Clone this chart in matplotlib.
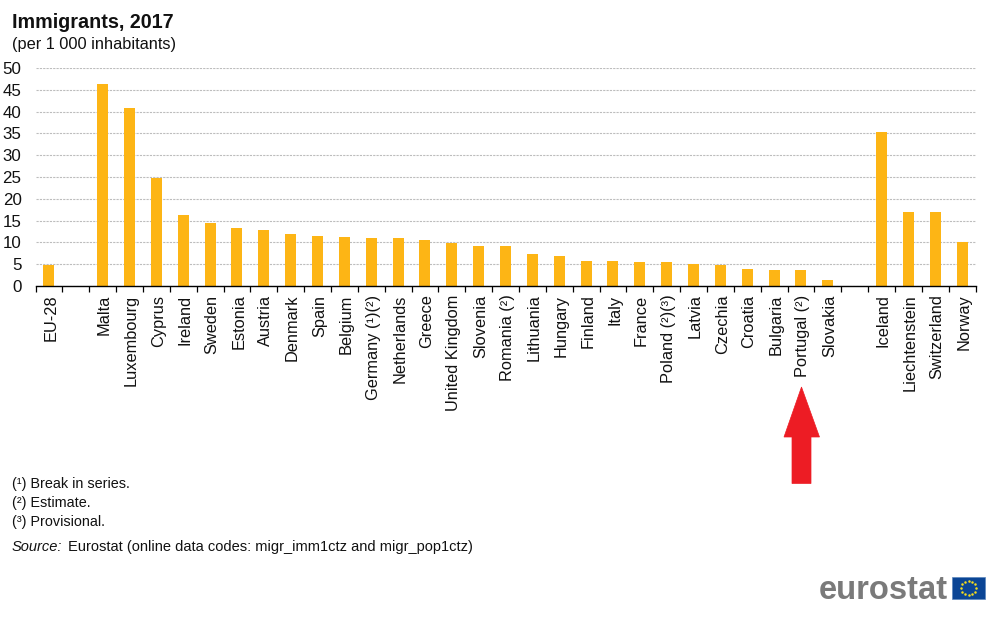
import numpy as np
import matplotlib
matplotlib.use("Agg")
import matplotlib.pyplot as plt
from matplotlib.patches import Polygon, Rectangle

plt.rcParams['font.family'] = ['Liberation Sans', 'DejaVu Sans']

categories = ["EU-28", "", "Malta", "Luxembourg", "Cyprus", "Ireland", "Sweden", "Estonia",
              "Austria", "Denmark", "Spain", "Belgium", "Germany (¹)(²)", "Netherlands",
              "Greece", "United Kingdom", "Slovenia", "Romania (²)", "Lithuania", "Hungary",
              "Finland", "Italy", "France", "Poland (²)(³)", "Latvia", "Czechia", "Croatia",
              "Bulgaria", "Portugal (²)", "Slovakia", "", "Iceland", "Liechtenstein",
              "Switzerland", "Norway"]
values = [4.8, np.nan, 46.4, 40.9, 24.8, 16.2, 14.4, 13.2, 12.8, 11.9, 11.4, 11.2, 11.0, 11.0,
          10.5, 9.8, 9.1, 9.1, 7.3, 6.9, 5.7, 5.7, 5.5, 5.5, 5.0, 4.8, 3.9, 3.7, 3.7, 1.4,
          np.nan, 35.4, 16.9, 16.9, 10.0]
yticks = [0, 5, 10, 15, 20, 25, 30, 35, 40, 45, 50]
title = "Immigrants, 2017"
subtitle = "(per 1 000 inhabitants)"
notes = ["(¹) Break in series.", "(²) Estimate.", "(³) Provisional."]

W, H = 1007, 622
fig = plt.figure(figsize=(W / 100, H / 100), dpi=100, facecolor="white")
L, R, T, B = 35.5, 975.5, 68.2, 285.8
ax = fig.add_axes([L / W, 1 - B / H, (R - L) / W, (B - T) / H])

x = np.arange(len(categories))
ax.bar(x, values, width=0.41, color="#FDB515", zorder=3)
ax.set_xlim(-0.5, len(categories) - 0.5)
ax.set_ylim(0, 50)

ax.set_yticks(yticks)
ax.set_yticklabels([str(v) for v in yticks], fontsize=12.2, color="#111111")
ax.yaxis.grid(True, color="#bdbdbd", linestyle=(0, (2, 1)), linewidth=0.8, zorder=0)
ax.tick_params(axis="y", length=0, pad=10)

ax.set_xticks(np.arange(len(categories) + 1) - 0.5, minor=False)
ax.set_xticklabels([])
ax.tick_params(axis="x", length=4, width=0.9, color="black", direction="out")
for xi, lab in zip(x, categories):
    ax.annotate(lab, xy=(xi, 0), xycoords=("data", "axes fraction"), xytext=(1.3, -6.3),
                textcoords="offset points", rotation=90, ha="center", va="top",
                fontsize=11.8, color="#111111")

for s in ("top", "right", "left"):
    ax.spines[s].set_visible(False)
ax.spines["bottom"].set_linewidth(1.0)
ax.spines["bottom"].set_color("black")
ax.spines["bottom"].set_zorder(5)


def fx(px):
    return px / W


def fy(py):
    return 1 - py / H


fig.text(fx(12), fy(22), title, fontsize=14.2, fontweight="bold", va="center", ha="left", color="#111111")
fig.text(fx(12), fy(44), subtitle, fontsize=11.8, va="center", ha="left", color="#111111")
for t, py in zip(notes, [484, 503, 522]):
    fig.text(fx(12), fy(py), t, fontsize=10.4, va="center", ha="left", color="#111111")
fig.text(fx(12), fy(547), "Source:", fontsize=10.5, style="italic", va="center", ha="left", color="#111111")
fig.text(fx(68), fy(547), "Eurostat (online data codes: migr_imm1ctz and migr_pop1ctz)", fontsize=10.5,
         va="center", ha="left", color="#111111")

# red arrow
arrow = [(801.5, 387), (819.5, 437), (811, 437), (811, 483.5), (792, 483.5), (792, 437), (784, 437)]
fig.add_artist(Polygon([(fx(a), fy(b)) for a, b in arrow], closed=True, transform=fig.transFigure,
                       facecolor="#ED1C24", edgecolor="#ED1C24", linewidth=0.5))

# eurostat logo
fig.text(fx(818.5), fy(599), "eurostat", fontsize=23.6, fontweight="bold", va="baseline", ha="left", color="#7a7a7a")
fig.add_artist(Rectangle((fx(952), fy(599)), 33 / W, 22 / H, transform=fig.transFigure,
                         facecolor="#0B4595", edgecolor="#5b86bd", linewidth=0.5))
ang = np.arange(12) * np.pi / 6
fig.add_artist(plt.Line2D(fx(968.5 + 7.3 * np.cos(ang)), fy(588 + 7.3 * np.sin(ang)), transform=fig.transFigure,
                          linestyle="none", marker="o", markersize=1.8, color="#F5DC1E", markeredgewidth=0))

fig.savefig("out.png", dpi=100, facecolor="white")
